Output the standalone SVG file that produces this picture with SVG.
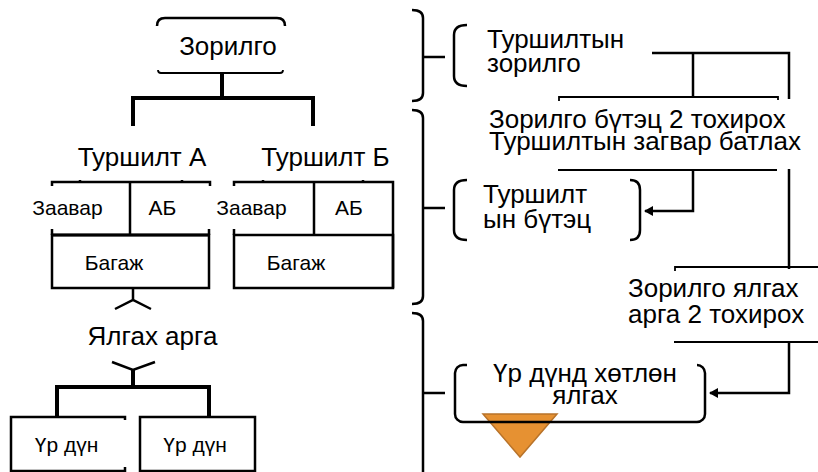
<svg xmlns="http://www.w3.org/2000/svg" width="818" height="472" viewBox="0 0 818 472">
<defs>
<marker id="arr" markerWidth="10" markerHeight="10" refX="8" refY="5" orient="auto" markerUnits="userSpaceOnUse">
<path d="M0,0 L9,5 L0,10 Z" fill="#000"/>
</marker>
<style>
text{font-family:"Liberation Sans",Arial,sans-serif;fill:#000}
.big{font-size:26px}
.sm{font-size:21px}
.mid{text-anchor:middle}
.ln{fill:none;stroke:#000;stroke-width:1.8}
.th{fill:none;stroke:#000;stroke-width:4}
.md{fill:none;stroke:#000;stroke-width:2.5}
.wh{fill:#fff;stroke:none}
</style>
</defs>
<rect width="818" height="472" fill="#fff"/>

<g id="connectors">
<path class="th" d="M222,73 V98 M133,126 V98 H313 V126"/>
<path class="md" d="M133,288 V300 M115,309 L133,300 L151,309"/>
<path class="md" d="M112,362 L133,370 L155,362"/>
<path class="th" d="M133,370 V387 M57,417 V387 H209 V417"/>
<path class="md" d="M652,53 H789 V393 H710" marker-end="url(#arr)"/>
<path class="md" d="M693,53 V98"/>
<path class="md" d="M693,170 V211 H645" marker-end="url(#arr)"/>
</g>

<g id="brackets">
<path class="md" d="M412,10 Q423,10 423,18 V93 Q423,101 412,101 M423,57 H445"/>
<path class="md" d="M412,110 Q423,110 423,118 V296 Q423,304 412,304 M423,208 H445"/>
<path class="md" d="M412,313 Q423,313 423,321 V472 M423,393 H445"/>
</g>

<g id="n-zorilgo">
<path class="md" d="M157,26 Q157,18 165,18 H277 Q285,18 285,26"/>
<path class="ln" d="M158,70 Q158,73 161,73 H280 Q283,73 283,70"/>
<text class="big mid" x="228" y="55">Зорилго</text>
</g>

<g id="n-turshilt-a">
<text class="big mid" x="142" y="166">Туршилт А</text>
<path class="md" d="M52,186 V182 H210 V186 M52,229 V235 M209,229 V235 M130,182 V235 M80,182 V180 M182,182 V180"/>
<rect x="52" y="235" width="157" height="53" class="md" fill="#fff"/>
<path class="th" d="M52,235 H209" style="stroke-width:3"/>
<text class="sm mid" x="67.5" y="215">Заавар</text>
<text class="sm mid" x="162.5" y="215">АБ</text>
<text class="sm mid" x="114" y="270">Багаж</text>
</g>

<g id="n-turshilt-b">
<text class="big mid" x="325.5" y="166">Туршилт Б</text>
<path class="md" d="M234,186 V182 H393 V288 M234,229 V235 M314,182 V235 M263,182 V180 M363,182 V180"/>
<rect x="234" y="235" width="159" height="53" class="md" fill="#fff"/>
<text class="sm mid" x="251.5" y="215">Заавар</text>
<text class="sm mid" x="349" y="215">АБ</text>
<text class="sm mid" x="296" y="270">Багаж</text>
</g>

<g id="n-ylgah-arga">
<text class="big mid" x="152.5" y="345">Ялгах арга</text>
</g>

<g id="n-ur-dun-1">
<path class="md" d="M125,420 V417 H11 V471 H125 V467"/>
<text class="sm mid" x="66.5" y="452">Үр дүн</text>
</g>
<g id="n-ur-dun-2">
<rect x="140" y="417" width="115" height="54" class="md" fill="#fff"/>
<text class="sm mid" x="195" y="452">Үр дүн</text>
</g>

<g id="n-turshiltyn-zorilgo">
<path class="md" d="M467,25 Q454,25 454,35 V76 Q454,86 467,86"/>
<text class="big" x="487" y="48">Туршилтын</text>
<text class="big" x="487" y="72">зорилго</text>
</g>

<g id="n-zorilgo-butets">
<rect class="wh" x="484" y="99" width="330" height="70"/>
<path class="ln" d="M559,101 V97 H778 V100 M558,170 H777"/>
<text class="big" x="489" y="128">Зорилго бүтэц 2 тохирох</text>
<text class="big" x="489" y="150">Туршилтын загвар батлах</text>
</g>

<g id="n-turshilt-butets">
<path class="md" d="M467,180 Q454,180 454,190 V230 Q454,240 467,240"/>
<path class="md" d="M630,180 Q640,180 640,190 V230 Q640,240 630,240"/>
<text class="big" x="483" y="203">Туршилт</text>
<text class="big" x="483" y="228">ын бүтэц</text>
</g>

<g id="n-zorilgo-ylgah">
<rect class="wh" x="624" y="269" width="194" height="72"/>
<path class="ln" d="M675,271 V267 H818 M674,342 H818"/>
<text class="big" x="628" y="297">Зорилго ялгах</text>
<text class="big" x="628" y="323">арга 2 тохирох</text>
</g>

<g id="n-triangle">
<polygon points="483,414 557,414 520,457" fill="#E69132" stroke="#B8732A" stroke-width="1.5"/>
</g>

<g id="n-ur-dund">
<rect x="455" y="365" width="250" height="57" rx="8" class="md" fill="#fff"/>
<rect class="wh" x="467" y="362" width="230" height="6"/>
<text class="big mid" x="585" y="382">Үр дүнд хөтлөн</text>
<text class="big mid" x="585" y="404">ялгах</text>
</g>
</svg>
